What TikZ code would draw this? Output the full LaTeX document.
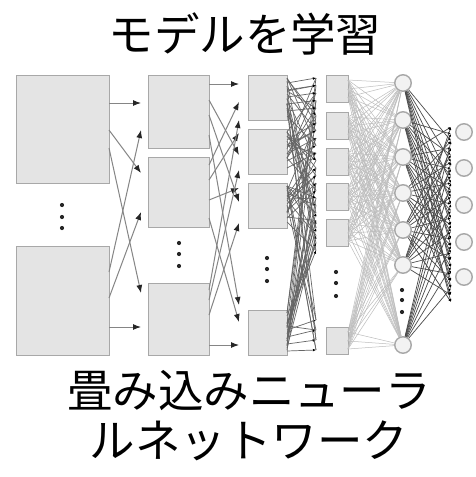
\documentclass[tikz,border=0pt]{standalone}
\usepackage{fontspec}
\newfontfamily\jp{Noto Sans CJK JP}
\usetikzlibrary{arrows.meta}
\definecolor{boxfill}{HTML}{E4E4E4}
\definecolor{boxline}{HTML}{A8A8A8}
\definecolor{wire}{HTML}{858585}
\definecolor{midwire}{HTML}{666666}
\definecolor{lightwire}{HTML}{BDBDBD}
\definecolor{darkwire}{HTML}{4A4A4A}
\definecolor{tipcol}{HTML}{262626}
\tikzset{
  box/.style={draw=boxline, fill=boxfill, line width=1pt, inner sep=0pt, outer sep=0pt},
  neuron/.style={circle, draw=boxline, fill=black!5, line width=1.4pt, minimum size=16.5pt, inner sep=0pt},
  dotmark/.style={circle, fill=black!85, minimum size=4.2pt, inner sep=0pt},
  bigwire/.style={draw=wire, line width=1pt, -{Latex[length=8pt,width=6pt,color=tipcol]}},
  meshwire/.style={draw=midwire, line width=0.7pt},
  meshtip/.style={-{Latex[length=3.2pt,width=2.8pt,color=black]}},
  faintwire/.style={draw=lightwire, line width=0.5pt},
  fanwire/.style={draw=darkwire, line width=0.7pt, -{Latex[length=3pt,width=2.4pt,color=black]}},
  jptext/.style={font=\jp\fontsize{45.5}{50}\selectfont, text=black, inner sep=0pt}
}
\begin{document}
\begin{tikzpicture}[x=1pt,y=-1pt]
\useasboundingbox (0,0) rectangle (476,477);
\fill[white] (0,0) rectangle (476,477);

% texts
\node[jptext] (title) at (245,34) {モデルを学習};
\node[jptext, align=center] (caption) at (249,416) {畳み込みニューラ\\ルネットワーク};

% layer 1
\node[box, minimum width=93pt, minimum height=108pt, anchor=north west] (L1-1) at (16,75) {};
\node[box, minimum width=93pt, minimum height=109pt, anchor=north west] (L1-2) at (16,246) {};
\foreach \y [count=\i] in {205,217,228} \node[dotmark] (D1-\i) at (62,\y) {};

% layer 2
\foreach \t/\h [count=\i] in {75/73,157/70,283/72}
  \node[box, minimum width=61pt, minimum height=\h pt, anchor=north west] (L2-\i) at (148,\t) {};
\foreach \y [count=\i] in {243,254,266} \node[dotmark] (D2-\i) at (179,\y) {};

% layer 3
\foreach \t [count=\i] in {75,129,183,310}
  \node[box, minimum width=39pt, minimum height=45pt, anchor=north west] (L3-\i) at (248,\t) {};
\foreach \y [count=\i] in {258,269,281} \node[dotmark] (D3-\i) at (267,\y) {};

% layer 4
\foreach \t [count=\i] in {75,112,148,183,219,327}
  \node[box, minimum width=22pt, minimum height=27pt, anchor=north west] (L4-\i) at (326,\t) {};
\foreach \y [count=\i] in {272,283,296} \node[dotmark] (D4-\i) at (336,\y) {};

% layer 5 neurons
\foreach \c [count=\i] in {83,120,157,193,230,265,345}
  \node[neuron] (N5-\i) at (403,\c) {};
\foreach \y [count=\i] in {290,300,312} \node[dotmark] (D5-\i) at (402,\y) {};

% layer 6 neurons
\foreach \c [count=\i] in {132,168,205,242,277}
  \node[neuron] (N6-\i) at (464,\c) {};

% layer 1 -> 2
\foreach \s/\dy/\ty [count=\k] in {1/28/103, 1/55/173, 1/73/293, 2/26/130, 2/52/212, 2/81/327}{
  \coordinate (T2-\k) at (141,\ty);
  \draw[bigwire] ([yshift=-\dy pt]L1-\s.north east) -- (T2-\k);
}

% layer 2 -> 3
\foreach \s/\dy/\ty [count=\k] in {1/9/84, 1/25/155, 1/40/202, 1/60/305, 2/8/102, 2/23/133, 2/43/188, 2/61/322, 3/7/120, 3/17/170, 3/32/223, 3/62/345}{
  \coordinate (T3-\k) at (239,\ty);
  \draw[bigwire] ([yshift=-\dy pt]L2-\s.north east) -- (T3-\k);
}

% layer 3 -> 4
\foreach \j in {0,...,27}{
  \pgfmathsetmacro\ty{\j<24 ? 78+7.5*\j : 320+10*(\j-24)}
  \pgfmathtruncatemacro\base{\j<24 ? floor(\j/6) : 3}
  \pgfmathtruncatemacro\sa{mod(\base+mod(\j,3)+3,4)+1}
  \pgfmathtruncatemacro\sb{\base+1}
  \pgfmathtruncatemacro\sc{mod(\base+mod(\j,2)*2+1,4)+1}
  \pgfmathsetmacro\da{3+mod(\j*13,39)}
  \pgfmathsetmacro\db{3+mod(\j*7+5,39)}
  \pgfmathsetmacro\dc{3+mod(\j*11+17,39)}
  \coordinate (T4-\j) at (316,\ty);
  \draw[meshwire] ([yshift=-\da pt]L3-\sa.north east) -- (T4-\j);
  \draw[meshwire] ([yshift=-\dc pt]L3-\sc.north east) -- (T4-\j);
  \draw[meshwire,meshtip] ([yshift=-\db pt]L3-\sb.north east) -- (T4-\j);
}

% layer 4 -> 5
\foreach \b in {1,...,6}{
  \foreach \c in {1,...,7}{
    \draw[faintwire] ([yshift=-5pt]L4-\b.north east) -- (N5-\c);
    \draw[faintwire] ([yshift=-14pt]L4-\b.north east) -- (N5-\c);
    \draw[faintwire] ([yshift=-22pt]L4-\b.north east) -- (N5-\c);
  }
}

% layer 5 -> 6
\foreach \k in {0,...,25}{
  \coordinate (T6-\k) at (451,127+7*\k);
}
\foreach \c in {1,...,7}{
  \pgfmathtruncatemacro\st{mod(2*\c,3)}
  \pgfmathtruncatemacro\stb{\st+3}
  \foreach \k in {\st,\stb,...,25}{
    \draw[fanwire] (N5-\c) -- (T6-\k);
  }
}
\end{tikzpicture}
\end{document}
